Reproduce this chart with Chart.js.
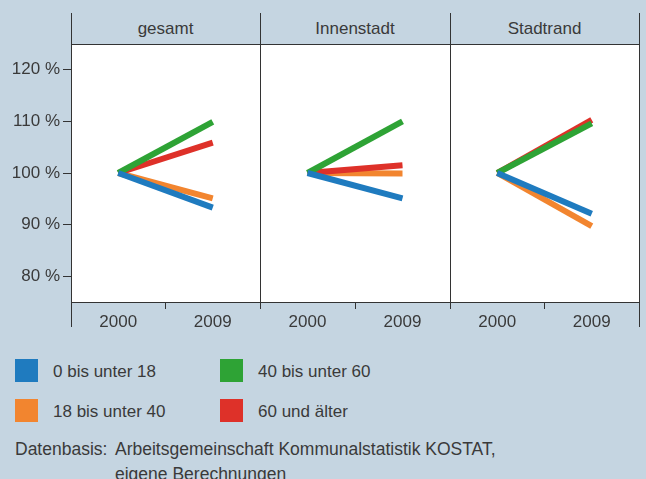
<!DOCTYPE html>
<html>
<head>
<meta charset="utf-8">
<script src="https://cdn.jsdelivr.net/npm/chart.js@4/dist/chart.umd.min.js"></script>
<style>
  html, body { margin: 0; padding: 0; }
  body {
    width: 646px; height: 479px; overflow: hidden; position: relative;
    background: #c5d5e1; font-family: "Liberation Sans", Arial, sans-serif;
    color: #3a3a3a;
  }
  .abs { position: absolute; }
  .plotbg { background: #fff; }
  .vline { background: #333; width: 1px; }
  .hline { background: #333; height: 1px; }
  .strip { font-size: 17px; text-align: center; height: 31px; line-height: 31px; top: 13px; }
  .sw { width: 23px; height: 23px; }
  .lg { font-size: 17px; line-height: 23px; white-space: nowrap; }
  .note { font-size: 17.5px; line-height: 25px; white-space: nowrap; }
</style>
</head>
<body>
<div id="wrap"></div>
<script>
// Daten
const jahre = ['2000', '2009'];
const bereiche = ['gesamt', 'Innenstadt', 'Stadtrand'];
const gruppen = ['0 bis unter 18', '18 bis unter 40', '40 bis unter 60', '60 und älter'];
const farben = ['#1f7bbf', '#f2852f', '#2ea335', '#de3129'];
// je Bereich: [2000, 2009] in %
const unter18 = [[100, 93.3], [100, 95.1], [100, 92.1]];
const unter40 = [[100, 95.1], [100, 99.9], [100, 89.7]];
const unter60 = [[100, 109.9], [100, 110.0], [100, 109.6]];
const ab60 = [[100, 105.9], [100, 101.5], [100, 110.3]];
const yTicks = [80, 90, 100, 110, 120];

const werte = [unter18, unter40, unter60, ab60];
const reihenfolge = [0, 3, 1, 2]; // blau oben, dann gruen, rot, orange

const kanten = [71, 260, 450, 639];
const oben = 44, unten = 302;
const wrap = document.getElementById('wrap');

function div(cls, css, text) {
  const d = document.createElement('div');
  d.className = 'abs ' + cls;
  Object.assign(d.style, css);
  if (text) d.textContent = text;
  wrap.appendChild(d);
  return d;
}

function ohnePadding(s) {
  s.paddingTop = 0; s.paddingBottom = 0; s.paddingLeft = 0; s.paddingRight = 0;
}

// Hintergrund der Plotflaeche
div('plotbg', { left: kanten[0] + 'px', top: oben + 'px', width: (kanten[3] - kanten[0]) + 'px', height: (unten - oben) + 'px' });

bereiche.forEach((name, i) => {
  const erster = i === 0;
  const links = erster ? 0 : kanten[i];
  const breite = kanten[i + 1] - links;
  const hoehe = 290;

  div('strip', { left: kanten[i] + 'px', width: (kanten[i + 1] - kanten[i]) + 'px' }, name);

  const c = document.createElement('canvas');
  c.className = 'abs';
  c.style.left = links + 'px';
  c.style.top = oben + 'px';
  c.style.width = breite + 'px';
  c.style.height = hoehe + 'px';
  c.width = breite;
  c.height = hoehe;
  wrap.appendChild(c);

  new Chart(c.getContext('2d'), {
    type: 'line',
    data: {
      labels: jahre,
      datasets: gruppen.map((g, k) => ({
        label: g,
        data: werte[k][i],
        borderColor: farben[k],
        backgroundColor: farben[k],
        borderWidth: 6,
        pointRadius: 0,
        tension: 0,
        order: reihenfolge[k]
      }))
    },
    options: {
      responsive: false,
      animation: false,
      layout: { padding: 0 },
      plugins: { legend: { display: false }, tooltip: { enabled: false } },
      scales: {
        x: {
          offset: true,
          grid: { offset: true, drawOnChartArea: false, tickLength: 7, color: '#333' },
          border: { display: true, color: '#333' },
          ticks: { color: '#3a3a3a', font: { size: 17, family: 'Liberation Sans' }, padding: 3, maxRotation: 0 },
          afterFit: s => { s.height = hoehe - (unten - oben); ohnePadding(s); }
        },
        y: {
          display: erster,
          min: 75,
          max: 125,
          afterBuildTicks: s => { s.ticks = yTicks.map(v => ({ value: v })); },
          grid: { drawOnChartArea: false, tickLength: 8, color: '#333' },
          border: { display: true, color: '#333' },
          ticks: { color: '#3a3a3a', font: { size: 17, family: 'Liberation Sans' }, padding: 3, callback: v => v + ' %' },
          afterFit: s => { s.width = erster ? kanten[0] : 0; ohnePadding(s); }
        }
      }
    }
  });
});

// Rahmenlinien
div('hline', { left: kanten[0] + 'px', top: oben + 'px', width: (kanten[3] - kanten[0] + 1) + 'px' });
div('vline', { left: kanten[0] + 'px', top: '13px', height: '314px' });
div('vline', { left: kanten[3] + 'px', top: '13px', height: '314px' });
div('vline', { left: kanten[1] + 'px', top: '13px', height: '296px' });
div('vline', { left: kanten[2] + 'px', top: '13px', height: '296px' });

// Legende
const lgPos = [[15, 359], [15, 399], [220, 359], [220, 399]];
gruppen.forEach((g, k) => {
  const [x, y] = lgPos[k];
  div('sw', { left: x + 'px', top: y + 'px', background: farben[k] });
  div('lg', { left: (x + 38) + 'px', top: (y + 1) + 'px' }, g);
});

// Quelle
div('note', { left: '15px', top: '437px' }, 'Datenbasis:');
div('note', { left: '115px', top: '437px' }, 'Arbeitsgemeinschaft Kommunalstatistik KOSTAT,');
div('note', { left: '115px', top: '462px' }, 'eigene Berechnungen');
</script>
</body>
</html>
